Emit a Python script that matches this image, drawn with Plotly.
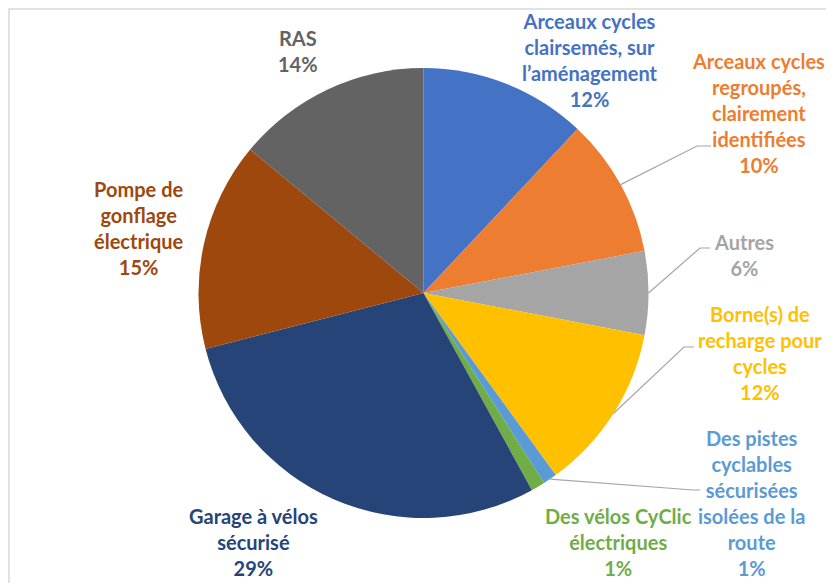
import math
import plotly.graph_objects as go

# ---------------- data ----------------
categories = [
    "Arceaux cycles clairsemés, sur l’aménagement",
    "Arceaux cycles regroupés, clairement identifiées",
    "Autres",
    "Borne(s) de recharge pour cycles",
    "Des pistes cyclables sécurisées isolées de la route",
    "Des vélos CyClic électriques",
    "Garage à vélos sécurisé",
    "Pompe de gonflage électrique",
    "RAS",
]
values = [12, 10, 6, 12, 1, 1, 29, 15, 14]

# display wrapping of the category names
wrapped = [
    "Arceaux cycles<br>clairsemés, sur<br>l’aménagement",
    "Arceaux cycles<br>regroupés,<br>clairement<br>identifiées",
    "Autres",
    "Borne(s) de<br>recharge pour<br>cycles",
    "Des pistes<br>cyclables<br>sécurisées<br>isolées de la<br>route",
    "Des vélos CyClic<br>électriques",
    "Garage à vélos<br>sécurisé",
    "Pompe de<br>gonflage<br>électrique",
    "RAS",
]

# ---------------- style / layout ----------------
OFF = 8                      # default page body margin
W, H = 834 - OFF, 583 - OFF
colors = ["#4472C4", "#ED7D31", "#A5A5A5", "#FFC000", "#5B9BD5",
          "#70AD47", "#264478", "#9E480E", "#636363"]
CX, CY, R = 423.5, 293.0, 225.0

# label centres (screen pixels)
label_pos = [(590, 59.5), (758, 113.5), (744, 255), (760, 353),
             (751.7, 503), (618, 542), (253.8, 542), (139.3, 228), (298, 51.5)]
# leader lines: slice index -> [elbow, end]  (screen pixels)
leaders = {
    1: [(697, 146), (711, 146)],
    2: [(700, 248), (710, 248)],
    3: [(684, 347), (694, 347)],
    4: [(693, 490), (700, 490)],
}


def px(x):
    return (x - OFF) / W


def py(y):
    return 1 - (y - OFF) / H


fig = go.Figure(go.Pie(
    labels=categories,
    values=values,
    sort=False,
    direction="clockwise",
    rotation=0,
    marker=dict(colors=colors, line=dict(width=0)),
    textinfo="none",
    showlegend=False,
    domain=dict(x=[px(CX - R), px(CX + R)], y=[py(CY + R), py(CY - R)]),
))

total = sum(values)
annotations = []
shapes = []
cum = 0.0
for i, v in enumerate(values):
    mid = (cum + v / 2) / total * 2 * math.pi
    cum += v
    pct = f"{round(v / total * 100)}%"
    lx, ly = label_pos[i]
    annotations.append(dict(
        x=px(lx), y=py(ly), xref="paper", yref="paper",
        text=f"{wrapped[i]}<br>{pct}", showarrow=False,
        xanchor="center", yanchor="middle", align="center",
        font=dict(family="Lato", size=20, color=colors[i], weight="bold"),
    ))
    if i in leaders:
        sx = CX + R * math.sin(mid)
        sy = CY - R * math.cos(mid)
        (ex, ey), (fx, fy) = leaders[i]
        shapes.append(dict(
            type="path", xref="paper", yref="paper",
            path=f"M {px(sx)},{py(sy)} L {px(ex)},{py(ey)} L {px(fx)},{py(fy)}",
            line=dict(color="#A6A6A6", width=1.2),
        ))

# chart border (top/left edges visible in the reference)
shapes.append(dict(type="rect", xref="paper", yref="paper",
                   x0=px(9), y0=py(600), x1=px(850), y1=py(9),
                   line=dict(color="#D9D9D9", width=1.5), layer="below"))

fig.update_layout(
    width=W, height=H,
    margin=dict(l=0, r=0, t=0, b=0),
    paper_bgcolor="white",
    plot_bgcolor="white",
    annotations=annotations,
    shapes=shapes,
)

fig.write_html("out.html")
